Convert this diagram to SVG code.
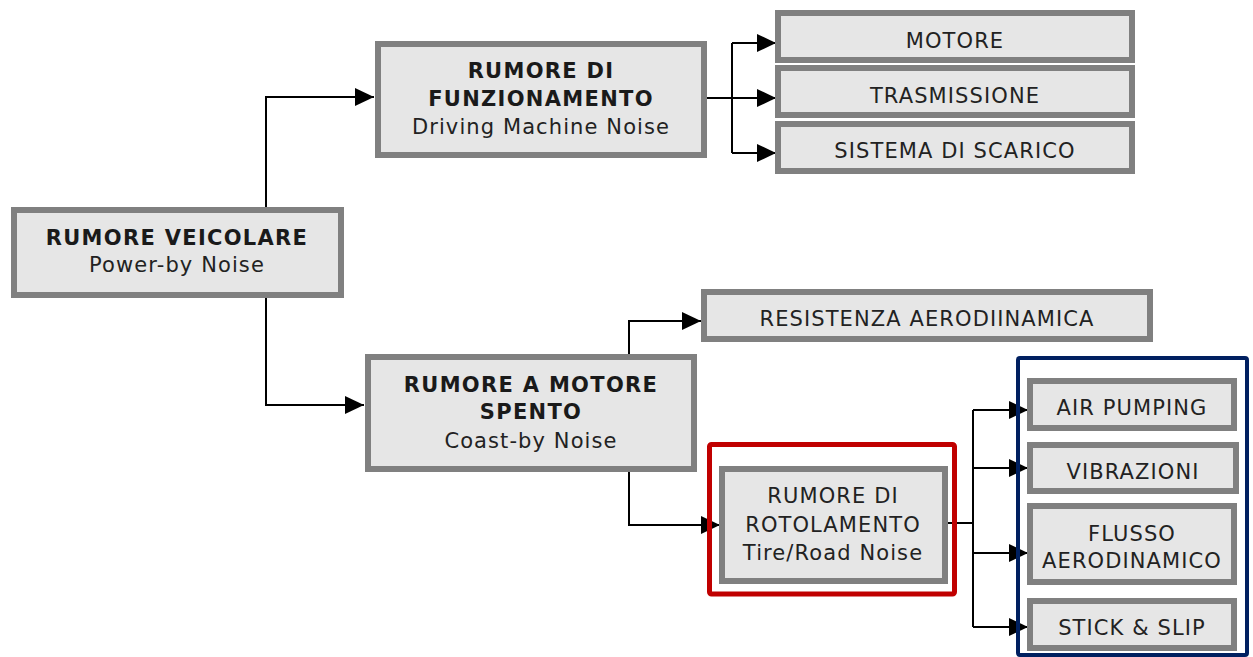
<svg xmlns="http://www.w3.org/2000/svg" width="1253" height="657" viewBox="0 0 1253 657">
<style>
.box{fill:#e6e6e6;stroke:#808080;stroke-width:6}
.t{font-family:"DejaVu Sans",Verdana,sans-serif;font-size:21px;fill:#222;text-anchor:middle;letter-spacing:1.1px}
.b{font-weight:bold;fill:#1a1a1a;letter-spacing:1.3px}
.c{fill:none;stroke:#000;stroke-width:2}
</style>
<defs>
<marker id="ar" markerUnits="userSpaceOnUse" markerWidth="20" markerHeight="18" refX="19" refY="9" orient="auto">
<path d="M0,0 L19,9 L0,18 z" fill="#000"/>
</marker>
</defs>
<rect width="1253" height="657" fill="#fff"/>
<g id="connectors">
<path class="c" d="M266,207 V97 H374" marker-end="url(#ar)"/>
<path class="c" d="M266,298 V405 H364" marker-end="url(#ar)"/>
<path class="c" d="M707,98 H776" marker-end="url(#ar)"/>
<path class="c" d="M732,43 V153"/>
<path class="c" d="M732,43 H776" marker-end="url(#ar)"/>
<path class="c" d="M732,153 H776" marker-end="url(#ar)"/>
<path class="c" d="M629,354 V321 H701" marker-end="url(#ar)"/>
<path class="c" d="M629,472 V525 H720" marker-end="url(#ar)"/>
<path class="c" d="M948,523 H973"/>
<path class="c" d="M973,410 V627"/>
<path class="c" d="M973,410 H1028" marker-end="url(#ar)"/>
<path class="c" d="M973,468 H1028" marker-end="url(#ar)"/>
<path class="c" d="M973,553 H1028" marker-end="url(#ar)"/>
<path class="c" d="M973,627 H1028" marker-end="url(#ar)"/>
</g>
<g id="highlight-red">
<rect x="709.5" y="444.5" width="245" height="149.5" rx="2" fill="none" stroke="#c00000" stroke-width="5"/>
</g>
<g id="highlight-blue">
<rect x="1018" y="358" width="229" height="297" rx="2" fill="none" stroke="#002060" stroke-width="4"/>
</g>
<g id="n-veicolare">
<rect class="box" x="14" y="210" width="327" height="85"/>
<text class="t b" x="177" y="245">RUMORE VEICOLARE</text>
<text class="t" x="177" y="272">Power-by Noise</text>
</g>
<g id="n-funzionamento">
<rect class="box" x="378" y="44" width="326" height="111"/>
<text class="t b" x="541" y="78">RUMORE DI</text>
<text class="t b" x="541" y="106">FUNZIONAMENTO</text>
<text class="t" x="541" y="134">Driving Machine Noise</text>
</g>
<g id="n-motore">
<rect class="box" x="778" y="13" width="354" height="47"/>
<text class="t" x="955" y="48">MOTORE</text>
</g>
<g id="n-trasmissione">
<rect class="box" x="778" y="68" width="354" height="47"/>
<text class="t" x="955" y="103">TRASMISSIONE</text>
</g>
<g id="n-scarico">
<rect class="box" x="778" y="124" width="354" height="47"/>
<text class="t" x="955" y="158">SISTEMA DI SCARICO</text>
</g>
<g id="n-spento">
<rect class="box" x="368" y="357" width="326" height="112"/>
<text class="t b" x="531" y="392">RUMORE A MOTORE</text>
<text class="t b" x="531" y="419">SPENTO</text>
<text class="t" x="531" y="448">Coast-by Noise</text>
</g>
<g id="n-resistenza">
<rect class="box" x="704" y="292" width="446" height="47"/>
<text class="t" x="927" y="326">RESISTENZA AERODIINAMICA</text>
</g>
<g id="n-rotolamento">
<rect class="box" x="722" y="469" width="223" height="112"/>
<text class="t" x="833" y="503">RUMORE DI</text>
<text class="t" x="833" y="532">ROTOLAMENTO</text>
<text class="t" x="833" y="560">Tire/Road Noise</text>
</g>
<g id="n-air">
<rect class="box" x="1030" y="381" width="204" height="47"/>
<text class="t" x="1132" y="415">AIR PUMPING</text>
</g>
<g id="n-vibrazioni">
<rect class="box" x="1030" y="445" width="206" height="46"/>
<text class="t" x="1133" y="479">VIBRAZIONI</text>
</g>
<g id="n-flusso">
<rect class="box" x="1030" y="506" width="204" height="76"/>
<text class="t" x="1132" y="541">FLUSSO</text>
<text class="t" x="1132" y="568">AERODINAMICO</text>
</g>
<g id="n-stick">
<rect class="box" x="1030" y="601" width="204" height="47"/>
<text class="t" x="1132" y="635">STICK &amp; SLIP</text>
</g>
</svg>
